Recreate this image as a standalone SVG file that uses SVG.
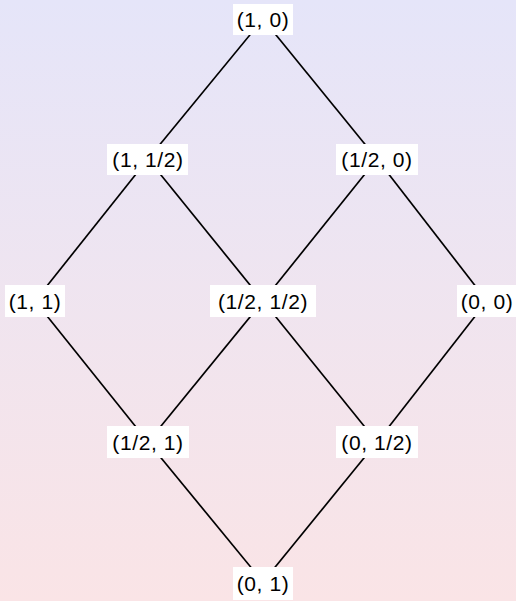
<svg xmlns="http://www.w3.org/2000/svg" width="516" height="601" viewBox="0 0 516 601">
<defs>
<linearGradient id="bg" x1="0" y1="0" x2="0" y2="1">
<stop offset="0" stop-color="#e5e5f9"/>
<stop offset="1" stop-color="#fae4e6"/>
</linearGradient>
<style>
.box{fill:#ffffff;}
.lbl{font-family:"Liberation Sans",Arial,sans-serif;font-size:21px;letter-spacing:0.6px;fill:#000;text-anchor:middle;}
.edge{stroke:#000;stroke-width:1.7;fill:none;}
</style>
</defs>
<rect x="0" y="0" width="516" height="601" fill="url(#bg)"/>
<g id="connectors">
<line class="edge" x1="263" y1="19" x2="148" y2="159"/>
<line class="edge" x1="263" y1="19" x2="377" y2="159"/>
<line class="edge" x1="148" y1="159" x2="35" y2="301"/>
<line class="edge" x1="148" y1="159" x2="263" y2="301"/>
<line class="edge" x1="377" y1="159" x2="263" y2="301"/>
<line class="edge" x1="377" y1="159" x2="487" y2="301"/>
<line class="edge" x1="35" y1="301" x2="148" y2="442"/>
<line class="edge" x1="263" y1="301" x2="148" y2="442"/>
<line class="edge" x1="263" y1="301" x2="377" y2="442"/>
<line class="edge" x1="487" y1="301" x2="377" y2="442"/>
<line class="edge" x1="148" y1="442" x2="263" y2="582"/>
<line class="edge" x1="377" y1="442" x2="263" y2="582"/>
</g>
<g id="n10"><rect class="box" x="233" y="4" width="60" height="31"/><text class="lbl" x="263" y="27">(1, 0)</text></g>
<g id="n1h"><rect class="box" x="107" y="144" width="81" height="31"/><text class="lbl" x="148" y="167">(1, 1/2)</text></g>
<g id="nh0"><rect class="box" x="336" y="144" width="82" height="31"/><text class="lbl" x="377" y="167">(1/2, 0)</text></g>
<g id="n11"><rect class="box" x="5" y="285" width="60" height="32"/><text class="lbl" x="35" y="309">(1, 1)</text></g>
<g id="nhh"><rect class="box" x="210" y="285" width="106" height="32"/><text class="lbl" x="263" y="309">(1/2, 1/2)</text></g>
<g id="n00"><rect class="box" x="457" y="285" width="59" height="32"/><text class="lbl" x="487" y="309">(0, 0)</text></g>
<g id="nh1"><rect class="box" x="107" y="426" width="82" height="32"/><text class="lbl" x="148" y="450">(1/2, 1)</text></g>
<g id="n0h"><rect class="box" x="336" y="426" width="82" height="32"/><text class="lbl" x="377" y="450">(0, 1/2)</text></g>
<g id="n01"><rect class="box" x="233" y="567" width="60" height="33"/><text class="lbl" x="263" y="591">(0, 1)</text></g>
</svg>
